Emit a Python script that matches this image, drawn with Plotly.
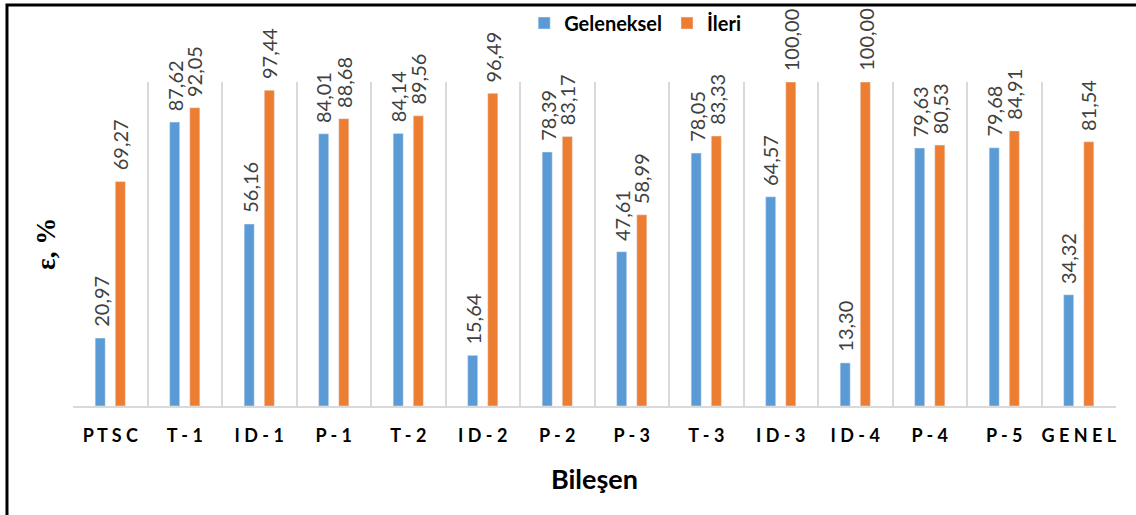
import plotly.graph_objects as go

# Components and efficiency values (%)
categories = ["PTSC", "T-1", "ID-1", "P-1", "T-2", "ID-2", "P-2", "P-3",
              "T-3", "ID-3", "ID-4", "P-4", "P-5", "GENEL"]
geleneksel = [20.97, 87.62, 56.16, 84.01, 84.14, 15.64, 78.39, 47.61,
              78.05, 64.57, 13.30, 79.63, 79.68, 34.32]
ileri = [69.27, 92.05, 97.44, 88.68, 89.56, 96.49, 83.17, 58.99,
         83.33, 100.00, 100.00, 80.53, 84.91, 81.54]

BLUE = "#5B9BD5"
ORANGE = "#ED7D31"
GRID = "#D9D9D9"
LABEL_FONT = "Lato, 'Open Sans', sans-serif"


def spaced(label):
    # letter-spaced category label
    return " ".join(label)


tick_text = [spaced(c) for c in categories]


def fmt(v):
    return f"{v:.2f}".replace(".", ",")


fig = go.Figure()
fig.add_trace(go.Bar(x=categories, y=geleneksel, name="Geleneksel",
                     marker_color=BLUE))
fig.add_trace(go.Bar(x=categories, y=ileri, name="İleri",
                     marker_color=ORANGE))

# vertical value labels above each bar
annotations = []
for series, shift in ((geleneksel, -10), (ileri, 10)):
    for cat, v in zip(categories, series):
        annotations.append(dict(
            x=cat, y=v, xref="x", yref="y", text=fmt(v), showarrow=False,
            textangle=-90, xanchor="center", yanchor="bottom",
            xshift=shift, yshift=9,
            font=dict(family=LABEL_FONT, size=20, color="#404040"),
        ))

# y-axis title
annotations.append(dict(
    x=-0.026, y=0.5, xref="paper", yref="paper", text="<b>ε, %</b>",
    showarrow=False, textangle=-90, xanchor="center", yanchor="middle",
    font=dict(family="'Liberation Serif', 'DejaVu Serif', serif", size=27,
              color="#000000"),
))

fig.update_layout(
    width=1136, height=515,
    margin=dict(l=73, r=20, t=82, b=109, autoexpand=False),
    paper_bgcolor="white", plot_bgcolor="white",
    barmode="group", bargap=0.46, bargroupgap=0.5,
    showlegend=True,
    legend=dict(orientation="h", x=0.539, y=1.182, xanchor="center",
                yanchor="middle", font=dict(family=LABEL_FONT, size=20,
                                            color="#000000", weight="bold"),
                itemwidth=30, tracegroupgap=0, bgcolor="rgba(0,0,0,0)"),
    xaxis=dict(
        type="category", tickmode="array", tickvals=categories,
        ticktext=tick_text, tickson="boundaries", ticks="",
        tickangle=0, automargin=False,
        showgrid=True, gridcolor=GRID, gridwidth=1.5,
        showline=True, linecolor=GRID, linewidth=2,
        tickfont=dict(family=LABEL_FONT, size=18, color="#000000",
                      weight="bold"),
        ticklabelstandoff=12,
        title=dict(text="Bileşen", standoff=26,
                   font=dict(family=LABEL_FONT, size=27, color="#000000",
                             weight="bold")),
    ),
    yaxis=dict(range=[0, 100], showgrid=False, showticklabels=False,
               showline=False, zeroline=False, ticks="", automargin=False),
    annotations=annotations,
    shapes=[dict(type="rect", xref="paper", yref="paper",
                 x0=-0.0633, y0=-0.40, x1=1.10, y1=1.2377,
                 line=dict(color="#000000", width=3),
                 fillcolor="rgba(0,0,0,0)", layer="above")],
)

fig.write_html("out.html")
